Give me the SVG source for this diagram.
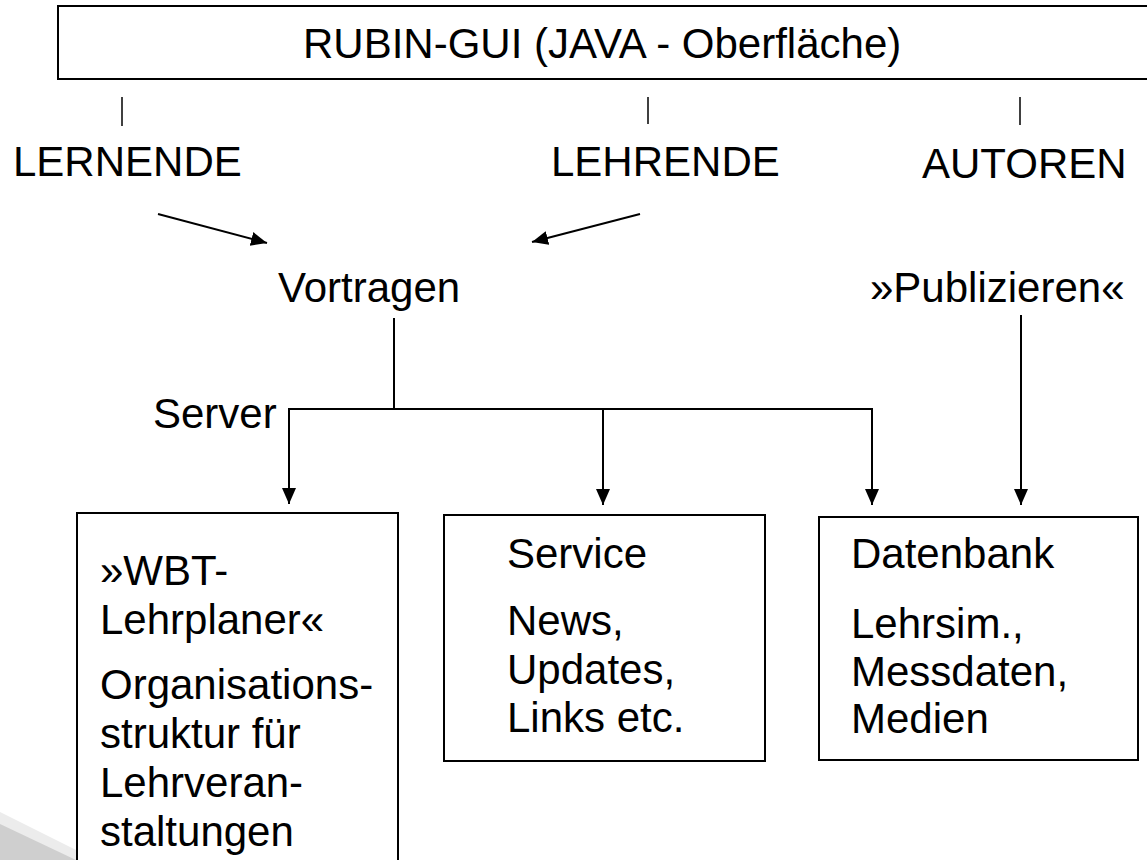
<svg xmlns="http://www.w3.org/2000/svg" width="1147" height="860" viewBox="0 0 1147 860">
<style>
.t{font-family:"Liberation Sans",Arial,sans-serif;font-size:42px;fill:#000}
.box{fill:#fff;stroke:#000;stroke-width:2}
.ln{stroke:#000;stroke-width:2;fill:none}
.tick{stroke:#000;stroke-width:1.5;fill:none}
</style>
<defs>
<marker id="ah" markerUnits="userSpaceOnUse" markerWidth="17" markerHeight="15" refX="16" refY="7" orient="auto">
<path d="M0,0 L16,7 L0,14 Z" fill="#000"/>
</marker>
</defs>
<rect width="1147" height="860" fill="#fff"/>
<g id="shadow">
<path d="M0,812 L96,860 L0,860 Z" fill="#ececec"/>
<path d="M0,824 L76,860 L0,860 Z" fill="#cfcfcf"/>
</g>
<g id="gui">
<rect class="box" x="58" y="6" width="1110" height="73"/>
<text class="t" x="303" y="58">RUBIN-GUI (JAVA - Oberfläche)</text>
</g>
<g id="lernende"><text class="t" x="13" y="176">LERNENDE</text></g>
<g id="lehrende"><text class="t" x="551" y="176">LEHRENDE</text></g>
<g id="autoren"><text class="t" x="922" y="178">AUTOREN</text></g>
<g id="vortragen"><text class="t" x="278" y="302">Vortragen</text></g>
<g id="publizieren"><text class="t" x="870" y="302">»Publizieren«</text></g>
<g id="server"><text class="t" x="153" y="428">Server</text></g>
<g id="wbt">
<rect class="box" x="77" y="513" width="321" height="360"/>
<text class="t" x="100" y="585">»WBT-</text>
<text class="t" x="100" y="634">Lehrplaner«</text>
<text class="t" x="100" y="699">Organisations-</text>
<text class="t" x="100" y="748">struktur für</text>
<text class="t" x="100" y="797">Lehrveran-</text>
<text class="t" x="100" y="846">staltungen</text>
</g>
<g id="service">
<rect class="box" x="444" y="515" width="321" height="246"/>
<text class="t" x="507" y="568">Service</text>
<text class="t" x="507" y="635">News,</text>
<text class="t" x="507" y="684">Updates,</text>
<text class="t" x="507" y="732">Links etc.</text>
</g>
<g id="datenbank">
<rect class="box" x="819" y="517" width="319" height="243"/>
<text class="t" x="851" y="568">Datenbank</text>
<text class="t" x="851" y="638">Lehrsim.,</text>
<text class="t" x="851" y="686">Messdaten,</text>
<text class="t" x="851" y="733">Medien</text>
</g>
<g id="connectors">
<line class="tick" x1="122" y1="97" x2="122" y2="126"/>
<line class="tick" x1="648" y1="97" x2="648" y2="124"/>
<line class="tick" x1="1020" y1="97" x2="1020" y2="125"/>
<line class="ln" x1="158" y1="214" x2="267" y2="243" marker-end="url(#ah)"/>
<line class="ln" x1="640" y1="214" x2="532" y2="242" marker-end="url(#ah)"/>
<line class="ln" x1="394" y1="318" x2="394" y2="409"/>
<line class="ln" x1="289" y1="409" x2="873" y2="409"/>
<line class="ln" x1="289" y1="408" x2="289" y2="504" marker-end="url(#ah)"/>
<line class="ln" x1="603" y1="409" x2="603" y2="505" marker-end="url(#ah)"/>
<line class="ln" x1="872" y1="408" x2="872" y2="505" marker-end="url(#ah)"/>
<line class="ln" x1="1021" y1="315" x2="1021" y2="505" marker-end="url(#ah)"/>
</g>
</svg>
